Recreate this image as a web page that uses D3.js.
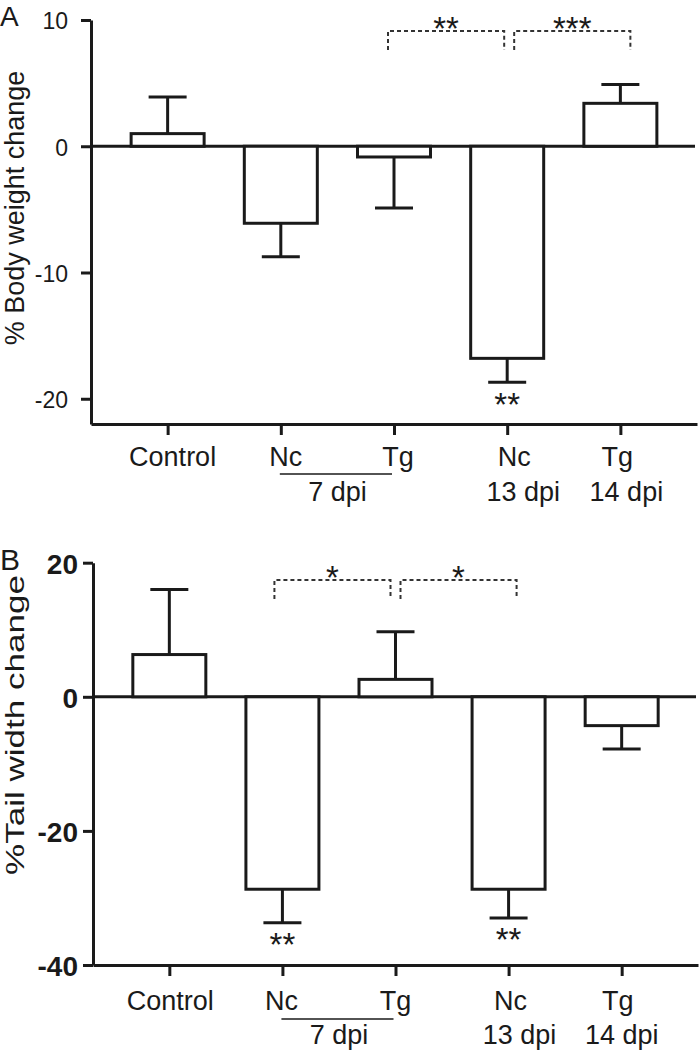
<!DOCTYPE html>
<html>
<head>
<meta charset="utf-8">
<script src="https://cdn.jsdelivr.net/npm/d3@7"></script>
<style>
  html, body { margin: 0; padding: 0; background: #fff; }
  svg { display: block; font-family: "Liberation Sans", Arial, Helvetica, sans-serif; }
</style>
</head>
<body>
<svg id="chart" width="700" height="1051"></svg>
<script>
// ---------- data ----------
const categories = ["Control", "Nc7", "Tg7", "Nc13", "Tg14"];
const labelLine1 = ["Control", "Nc", "Tg", "Nc", "Tg"];
const labelLine2 = ["", "", "", "13 dpi", "14 dpi"];
const groupLabel = "7 dpi";

const bodyMean = [1.0, -6.1, -0.85, -16.8, 3.4];
const bodySem  = [2.9, 2.65, 4.05, 1.9, 1.5];
const bodyTicks = [10, 0, -10, -20];
const bodyStars = ["", "", "", "**", ""];
const bodyComparisons = [["Tg7", "Nc13", "**"], ["Nc13", "Tg14", "***"]];

const tailMean = [6.3, -28.7, 2.6, -28.7, -4.3];
const tailSem  = [9.7, 5.0, 7.1, 4.3, 3.5];
const tailTicks = [20, 0, -20, -40];
const tailStars = ["", "**", "", "**", ""];
const tailComparisons = [["Nc7", "Tg7", "*"], ["Tg7", "Nc13", "*"]];

// ---------- drawing ----------
const svg = d3.select("#chart");
const ink = "#1a1a1a";
const starFont = 33;

function panel(cfg) {
  const g = svg.append("g");
  const x = d3.scalePoint().domain(categories).range([cfg.left, cfg.right]).padding(cfg.pad);
  const y = d3.scaleLinear().domain(cfg.domain).range([cfg.bottom, cfg.top]);
  const barW = 73, capW = 38;

  // zero line
  g.append("line")
    .attr("x1", cfg.left).attr("x2", cfg.right - 2)
    .attr("y1", y(0)).attr("y2", y(0))
    .attr("stroke", ink).attr("stroke-width", 3);

  const data = categories.map((c, i) => ({c, m: cfg.mean[i], s: cfg.sem[i], star: cfg.stars[i]}));
  data.forEach(d => {
    const dir = d.m >= 0 ? 1 : -1;
    const end = d.m + dir * d.s;
    g.append("line")
      .attr("x1", x(d.c)).attr("x2", x(d.c))
      .attr("y1", y(d.m)).attr("y2", y(end))
      .attr("stroke", ink).attr("stroke-width", 3);
    g.append("line")
      .attr("x1", x(d.c) - capW / 2).attr("x2", x(d.c) + capW / 2)
      .attr("y1", y(end)).attr("y2", y(end))
      .attr("stroke", ink).attr("stroke-width", 3);
    if (d.star) {
      g.append("text")
        .attr("x", x(d.c)).attr("y", y(end) + 14.5 + 0.57 * starFont)
        .attr("text-anchor", "middle")
        .attr("font-size", starFont).attr("fill", ink)
        .text(d.star);
    }
  });

  // bars
  g.selectAll("rect.bar").data(data).join("rect")
    .attr("class", "bar")
    .attr("x", d => x(d.c) - barW / 2)
    .attr("width", barW)
    .attr("y", d => Math.min(y(0), y(d.m)))
    .attr("height", d => Math.abs(y(d.m) - y(0)))
    .attr("fill", "#fff")
    .attr("stroke", ink).attr("stroke-width", 3);

  // y axis
  const yAxis = g.append("g")
    .attr("transform", `translate(${cfg.left},0)`)
    .call(d3.axisLeft(y).tickValues(cfg.ticks).tickSize(10).tickSizeOuter(0)
      .tickPadding(cfg.tickPad).tickFormat(d => String(d)));
  yAxis.select(".domain").attr("stroke", ink).attr("stroke-width", 3);
  yAxis.selectAll(".tick line").attr("stroke", ink).attr("stroke-width", 3);
  yAxis.selectAll(".tick text")
    .attr("font-size", cfg.tickFont).attr("font-weight", cfg.tickWeight)
    .attr("fill", ink).attr("dy", "0.38em")
    .attr("font-family", "'Liberation Sans', Arial, sans-serif");

  // x axis
  const xAxis = g.append("g")
    .attr("transform", `translate(0,${cfg.bottom})`)
    .call(d3.axisBottom(x).tickSize(11).tickSizeOuter(0).tickFormat(""));
  xAxis.select(".domain").attr("stroke", ink).attr("stroke-width", 3);
  xAxis.selectAll(".tick line").attr("stroke", ink).attr("stroke-width", 3);

  // x labels
  categories.forEach((c, i) => {
    g.append("text")
      .attr("x", x(c) + cfg.l1dx[i]).attr("y", cfg.bottom + cfg.l1)
      .attr("text-anchor", "middle").attr("font-size", 27).attr("fill", ink)
      .text(labelLine1[i]);
    if (labelLine2[i]) {
      g.append("text")
        .attr("x", x(c) + cfg.l2dx[i]).attr("y", cfg.bottom + cfg.l2)
        .attr("text-anchor", "middle").attr("font-size", 27).attr("fill", ink)
        .text(labelLine2[i]);
    }
  });
  // group underline
  g.append("line")
    .attr("x1", x("Nc7") - 1).attr("x2", x("Tg7") - 2)
    .attr("y1", cfg.bottom + cfg.ul).attr("y2", cfg.bottom + cfg.ul)
    .attr("stroke", ink).attr("stroke-width", 1.5);
  g.append("text")
    .attr("x", (x("Nc7") + x("Tg7")) / 2).attr("y", cfg.bottom + cfg.l2)
    .attr("text-anchor", "middle").attr("font-size", 27).attr("fill", ink)
    .text(groupLabel);

  // comparison brackets
  cfg.comps.forEach((cmp, k) => {
    const off = cfg.compOff[k];
    const x1 = x(cmp[0]) + off[0], x2 = x(cmp[1]) + off[1];
    const yb = cfg.bracketY, leg = 19;
    g.append("path")
      .attr("d", `M${x1},${yb + leg}V${yb}H${x2}V${yb + leg}`)
      .attr("fill", "none").attr("stroke", "#333").attr("stroke-width", 2)
      .attr("stroke-dasharray", "4,3");
    g.append("text")
      .attr("x", (x1 + x2) / 2).attr("y", yb - 9.5 + 0.57 * starFont)
      .attr("text-anchor", "middle").attr("font-size", starFont).attr("fill", ink)
      .text(cmp[2]);
  });

  // y title
  const t = g.append("text")
    .attr("transform", `translate(${cfg.titleX},${cfg.titleY}) rotate(-90)`)
    .attr("text-anchor", "middle").attr("font-size", cfg.titleFont).attr("fill", ink)
    .text(cfg.title);
  if (cfg.titleLen) t.attr("textLength", cfg.titleLen).attr("lengthAdjust", "spacingAndGlyphs");

  // panel letter
  g.append("text")
    .attr("x", 0).attr("y", cfg.letterY)
    .attr("font-size", cfg.letterFont).attr("fill", ink)
    .text(cfg.letter);
}

panel({
  letter: "A", letterY: 26, letterFont: 28,
  left: 91, right: 697, pad: 0.677, top: 20, bottom: 424, domain: [-22, 10],
  mean: bodyMean, sem: bodySem, stars: bodyStars, ticks: bodyTicks,
  tickFont: 23, tickWeight: "normal", tickPad: 13,
  l1: 42, l2: 77, ul: 50,
  l1dx: [5, 5, 4, 7, -3], l2dx: [0, 0, 0, 16, 6],
  comps: bodyComparisons, compOff: [[-6, -3], [7, 10]], bracketY: 31,
  title: "% Body weight change", titleX: 24, titleY: 208, titleFont: 27
});

panel({
  letter: "B", letterY: 570, letterFont: 30,
  left: 93, right: 698, pad: 0.675, top: 562.7, bottom: 965, domain: [-40, 20],
  mean: tailMean, sem: tailSem, stars: tailStars, ticks: tailTicks,
  tickFont: 28, tickWeight: "bold", tickPad: 5,
  l1: 45, l2: 79, ul: 54,
  l1dx: [1, -1, 0, 2, -4], l2dx: [0, 0, 0, 11, 0],
  comps: tailComparisons, compOff: [[-8, -5], [5, 8]], bracketY: 580,
  title: "%Tail width change", titleX: 24, titleY: 725, titleFont: 26, titleLen: 300
});
</script>
</body>
</html>
